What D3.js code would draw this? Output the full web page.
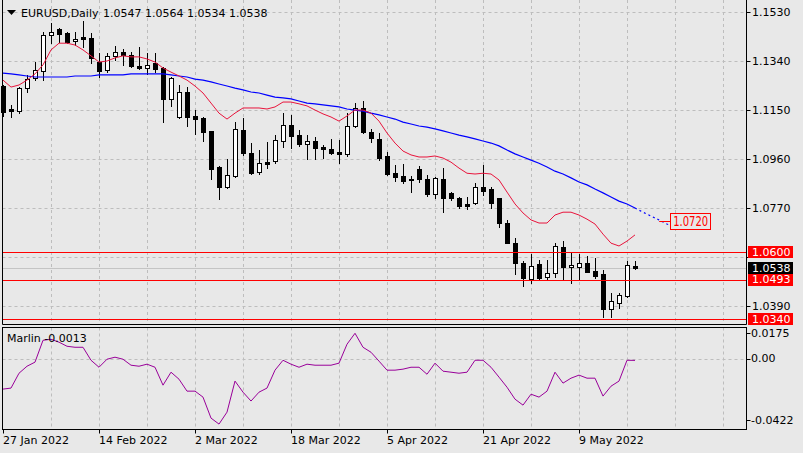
<!DOCTYPE html>
<html>
<head>
<meta charset="utf-8">
<script src="https://cdn.jsdelivr.net/npm/d3@7"></script>
<style>
  body { margin: 0; background: #e8e8e8; }
  svg text { font-family: "DejaVu Sans", sans-serif; font-size: 11px; fill: #000; }
</style>
</head>
<body>
<svg id="chart" width="803" height="453"></svg>
<script>
// Daily candles, one per trading day starting 27 Jan 2022
const opens  = [1.1243,1.1154,1.1146,1.1235,1.1274,1.1301,1.1441,1.1464,1.1448,1.1417,
                1.1433,1.1429,1.1336,1.1305,1.1360,1.1375,1.1364,1.1321,1.1313,1.1332,
                1.1313,1.1193,1.1123,1.1220,1.1127,1.1119,1.1069,1.0929,1.0852,1.0894,
                1.1073,1.0983,1.0909,1.0948,1.0952,1.1030,1.1092,1.1053,1.1018,1.1030,
                1.1007,1.0999,1.0987,1.0980,1.1088,1.1158,1.1065,1.1038,1.0972,1.0905,
                1.0894,1.0881,1.0921,1.0883,1.0825,1.0883,1.0829,1.0809,1.0786,1.0790,
                1.0852,1.0844,1.0809,1.0712,1.0634,1.0557,1.0495,1.0553,1.0503,1.0518,
                1.0619,1.0541,1.0541,1.0557,1.0526,1.0514,1.0378,1.0401,1.0429,1.0547];
const highs  = [1.1247,1.1169,1.1239,1.1286,1.1336,1.1452,1.1487,1.1468,1.1452,1.1452,
                1.1495,1.1448,1.1371,1.1371,1.1398,1.1387,1.1375,1.1394,1.1371,1.1371,
                1.1317,1.1278,1.1247,1.1239,1.1150,1.1123,1.1069,1.0933,1.0960,1.1103,
                1.1119,1.1022,1.0995,1.1026,1.1053,1.1138,1.1131,1.1073,1.1053,1.1046,
                1.1015,1.1038,1.1034,1.1138,1.1178,1.1185,1.1077,1.1061,1.0987,1.0937,
                1.0940,1.0894,1.0933,1.0898,1.0890,1.0925,1.0832,1.0813,1.0813,1.0867,
                1.0937,1.0852,1.0809,1.0724,1.0654,1.0565,1.0592,1.0569,1.0569,1.0634,
                1.0642,1.0596,1.0592,1.0584,1.0577,1.0530,1.0440,1.0440,1.0565,1.0564];
const lows   = [1.1127,1.1123,1.1138,1.1220,1.1266,1.1266,1.1409,1.1413,1.1409,1.1402,
                1.1394,1.1332,1.1278,1.1297,1.1344,1.1325,1.1317,1.1309,1.1290,1.1297,
                1.1103,1.1166,1.1119,1.1088,1.1057,1.1030,1.0883,1.0805,1.0848,1.0890,
                1.0976,1.0902,1.0902,1.0925,1.0944,1.1007,1.1003,1.1011,1.0960,1.0960,
                1.0964,1.0980,1.0944,1.0972,1.1084,1.1061,1.1026,1.0956,1.0898,1.0875,
                1.0867,1.0832,1.0871,1.0817,1.0809,1.0754,1.0801,1.0770,1.0766,1.0786,
                1.0821,1.0770,1.0697,1.0634,1.0514,1.0468,1.0479,1.0495,1.0491,1.0503,
                1.0495,1.0479,1.0495,1.0522,1.0499,1.0347,1.0347,1.0382,1.0425,1.0534];
const closes = [1.1142,1.1146,1.1235,1.1270,1.1305,1.1441,1.1452,1.1444,1.1413,1.1425,
                1.1425,1.1352,1.1301,1.1360,1.1375,1.1364,1.1321,1.1313,1.1325,1.1309,
                1.1193,1.1274,1.1220,1.1123,1.1115,1.1065,1.0921,1.0852,1.0898,1.1077,
                1.0983,1.0905,1.0944,1.0940,1.1034,1.1092,1.1050,1.1018,1.1030,1.1003,
                1.0999,1.0983,1.0980,1.1088,1.1158,1.1065,1.1042,1.0964,1.0902,1.0890,
                1.0875,1.0879,1.0883,1.0825,1.0887,1.0809,1.0809,1.0778,1.0778,1.0852,
                1.0836,1.0790,1.0712,1.0634,1.0557,1.0499,1.0546,1.0499,1.0518,1.0623,
                1.0541,1.0549,1.0557,1.0522,1.0507,1.0378,1.0409,1.0433,1.0549,1.0538];

// red (fast) and blue (slow) moving averages, read per bar
const maFast = [1.1266,1.1239,1.1247,1.1266,1.1290,1.1325,1.1383,1.1409,1.1409,1.1402,
                1.1383,1.1360,1.1336,1.1340,1.1352,1.1360,1.1356,1.1356,1.1348,1.1336,
                1.1313,1.1297,1.1282,1.1266,1.1243,1.1216,1.1177,1.1138,1.1115,1.1138,
                1.1158,1.1158,1.1158,1.1154,1.1162,1.1181,1.1181,1.1174,1.1166,1.1150,
                1.1135,1.1123,1.1107,1.1127,1.1150,1.1150,1.1138,1.1107,1.1061,1.1022,
                1.0991,1.0976,1.0968,1.0968,1.0972,1.0964,1.0948,1.0925,1.0905,1.0902,
                1.0905,1.0902,1.0879,1.0832,1.0786,1.0751,1.0724,1.0712,1.0712,1.0743,
                1.0754,1.0754,1.0743,1.0727,1.0708,1.0669,1.0634,1.0623,1.0642,1.0666];
const maSlow = [1.1293,1.1290,1.1286,1.1282,1.1278,1.1278,1.1278,1.1278,1.1278,1.1282,
                1.1282,1.1282,1.1286,1.1286,1.1286,1.1286,1.1290,1.1290,1.1290,1.1290,
                1.1290,1.1286,1.1282,1.1278,1.1270,1.1266,1.1259,1.1251,1.1243,1.1235,
                1.1228,1.1220,1.1216,1.1208,1.1200,1.1197,1.1193,1.1185,1.1177,1.1174,
                1.1170,1.1166,1.1162,1.1154,1.1150,1.1146,1.1138,1.1131,1.1123,1.1115,
                1.1103,1.1096,1.1088,1.1084,1.1077,1.1069,1.1061,1.1053,1.1046,1.1038,
                1.1030,1.1022,1.1011,1.0995,1.0980,1.0968,1.0956,1.0944,1.0929,1.0913,
                1.0902,1.0887,1.0871,1.0860,1.0844,1.0829,1.0813,1.0797,1.0786,1.0770];
// slow MA drawn dotted past the last bar
const maSlowAhead = [1.0770,1.0754,1.0739,1.0724,1.0708,1.0697];

const marlin = [-0.0210,-0.0203,-0.0101,-0.0053,-0.0025,0.0125,0.0132,0.0112,0.0084,0.0077,
                0.0077,-0.0012,-0.0060,-0.0005,0.0009,-0.0005,-0.0046,-0.0053,-0.0039,-0.0060,
                -0.0183,-0.0094,-0.0142,-0.0224,-0.0224,-0.0265,-0.0409,-0.0450,-0.0368,-0.0155,
                -0.0231,-0.0292,-0.0231,-0.0203,-0.0080,-0.0012,-0.0039,-0.0060,-0.0039,-0.0046,
                -0.0046,-0.0046,-0.0032,0.0098,0.0173,0.0077,0.0043,-0.0018,-0.0080,-0.0080,
                -0.0073,-0.0060,-0.0060,-0.0108,-0.0032,-0.0087,-0.0094,-0.0101,-0.0094,-0.0012,
                -0.0012,-0.0060,-0.0128,-0.0197,-0.0279,-0.0320,-0.0245,-0.0265,-0.0224,-0.0094,
                -0.0169,-0.0135,-0.0114,-0.0135,-0.0135,-0.0258,-0.0190,-0.0155,-0.0012,-0.0013];

const priceTicks = [1.1530, 1.1340, 1.1150, 1.0960, 1.0770, 1.0580, 1.0390];
const hiddenPriceLabels = [1.0580];
const levels = [1.0600, 1.0493, 1.0340];
const lastPrice = 1.0538;
const aheadLabel = 1.0720;
const marlinTicks = [0.0175, 0, -0.0422];
const marlinTickLabels = ["0.0175", "0.00", "-0.0422"];
const dateLabels = ["27 Jan 2022", "14 Feb 2022", "2 Mar 2022", "18 Mar 2022", "5 Apr 2022", "21 Apr 2022", "9 May 2022"];
const dateLabelBars = [0, 12, 24, 36, 48, 60, 72];

const svg = d3.select('#chart');
const W = 803, H = 453;
const left = 2.5, right = 746.5;
const mainTop = 0, mainBottom = 324.5;
const subTop = 327.5, subBottom = 429.5;
const gridColor = '#bdbdbd';

svg.append('rect').attr('width', W).attr('height', H).attr('fill', '#e8e8e8');

const x = d3.scaleLinear().domain([0, 93]).range([3, 747]);
const y = d3.scaleLinear().domain([1.0340, 1.1530]).range([319, 12]);
const ym = d3.scaleLinear().domain([-0.0422, 0.0175]).range([420, 333]);
const px = v => Math.round(v) + 0.5;

// vertical grid, every 6 bars
const gridBars = d3.range(6, 93, 6);
[[mainTop, mainBottom], [subTop, subBottom]].forEach(([t, b]) => {
    svg.append('g').selectAll('line')
        .data(gridBars)
        .enter()
        .append('line')
        .attr('x1', d => px(x(d))).attr('x2', d => px(x(d)))
        .attr('y1', t).attr('y2', b)
        .attr('stroke', gridColor)
        .attr('stroke-dasharray', '3,3');
});

// horizontal price grid
svg.append('g').selectAll('line')
    .data(priceTicks)
    .enter()
    .append('line')
    .attr('x1', left).attr('x2', right)
    .attr('y1', d => px(y(d))).attr('y2', d => px(y(d)))
    .attr('stroke', gridColor)
    .attr('stroke-dasharray', '3,3');

svg.append('line')
    .attr('x1', left).attr('x2', right)
    .attr('y1', px(ym(0))).attr('y2', px(ym(0)))
    .attr('stroke', gridColor)
    .attr('stroke-dasharray', '3,3');

// bid line
svg.append('line')
    .attr('x1', left).attr('x2', right)
    .attr('y1', px(y(lastPrice))).attr('y2', px(y(lastPrice)))
    .attr('stroke', '#c4c4c4');

// candles
const bars = d3.range(closes.length);
const candles = svg.append('g').attr('shape-rendering', 'crispEdges');
candles.selectAll('.wick')
    .data(bars)
    .enter()
    .append('line')
    .attr('class', 'wick')
    .attr('x1', i => px(x(i))).attr('x2', i => px(x(i)))
    .attr('y1', i => Math.round(y(highs[i]))).attr('y2', i => Math.round(y(lows[i])) + 1)
    .attr('stroke', '#000');
candles.selectAll('.body')
    .data(bars)
    .enter()
    .append('rect')
    .attr('class', 'body')
    .attr('x', i => Math.round(x(i)) - 2 + 0.5)
    .attr('y', i => px(y(Math.max(opens[i], closes[i]))))
    .attr('width', 4)
    .attr('height', i => Math.max(0, Math.round(y(Math.min(opens[i], closes[i]))) - Math.round(y(Math.max(opens[i], closes[i])))))
    .attr('fill', i => closes[i] >= opens[i] ? '#fff' : '#000')
    .attr('stroke', '#000');

// moving averages
const line = d3.line().x(d => x(d[0])).y(d => y(d[1]));
svg.append('path')
    .attr('d', line(maSlow.map((v, i) => [i, v])))
    .attr('fill', 'none').attr('stroke', '#0000ff').attr('stroke-width', 1.2);
svg.append('path')
    .attr('d', line(maSlowAhead.map((v, i) => [i + maSlow.length - 1, v])))
    .attr('fill', 'none').attr('stroke', '#0000ff').attr('stroke-width', 1.2)
    .attr('stroke-dasharray', '2,3');
svg.append('path')
    .attr('d', line(maFast.map((v, i) => [i, v])))
    .attr('fill', 'none').attr('stroke', '#e8143c').attr('stroke-width', 1);

// horizontal levels
svg.append('g').selectAll('line')
    .data(levels)
    .enter()
    .append('line')
    .attr('x1', left).attr('x2', right)
    .attr('y1', d => px(y(d))).attr('y2', d => px(y(d)))
    .attr('stroke', '#ff0000').attr('stroke-width', 1.2);

// 1.0720 projection label
const aheadX = x(maSlow.length - 1 + 4.4);
svg.append('line')
    .attr('x1', aheadX - 11).attr('x2', aheadX)
    .attr('y1', px(y(aheadLabel))).attr('y2', px(y(aheadLabel)))
    .attr('stroke', '#ff0000');
svg.append('rect')
    .attr('x', px(aheadX)).attr('y', px(y(aheadLabel) - 8))
    .attr('width', 40).attr('height', 16)
    .attr('fill', '#e8e8e8').attr('stroke', '#ff0000');
svg.append('text')
    .attr('x', aheadX + 3).attr('y', y(aheadLabel)).attr('dy', '0.37em')
    .attr('textLength', 35).attr('lengthAdjust', 'spacingAndGlyphs')
    .style('fill', '#ff0000').style('font-size', '14px')
    .text(aheadLabel.toFixed(4));

// marlin
svg.append('path')
    .attr('d', d3.line().x((d, i) => x(i)).y(d => ym(d))(marlin))
    .attr('fill', 'none').attr('stroke', '#990099').attr('stroke-width', 1);

// frames
const frame = svg.append('g').attr('stroke', '#000').attr('fill', 'none');
frame.append('path').attr('d', `M${left},${mainTop}V${mainBottom}H${right}V${mainTop}`);
frame.append('rect').attr('x', left).attr('y', subTop).attr('width', right - left).attr('height', subBottom - subTop);

// right price axis
const ax = svg.append('g');
ax.selectAll('line')
    .data(priceTicks)
    .enter()
    .append('line')
    .attr('x1', right).attr('x2', right + 4)
    .attr('y1', d => px(y(d))).attr('y2', d => px(y(d)))
    .attr('stroke', '#000');
ax.selectAll('text')
    .data(priceTicks.filter(d => !hiddenPriceLabels.includes(d)))
    .enter()
    .append('text')
    .attr('x', 752).attr('y', d => y(d)).attr('dy', '0.36em')
    .text(d => d.toFixed(4));

// level tags on the axis
const tags = levels.map(v => ({ v, bg: '#ff0000' })).concat([{ v: lastPrice, bg: '#000' }]);
const tag = svg.append('g').selectAll('g').data(tags).enter().append('g');
tag.append('rect')
    .attr('x', 748).attr('y', d => Math.round(y(d.v)) - 6)
    .attr('width', 45).attr('height', 12)
    .attr('fill', d => d.bg);
tag.append('text')
    .attr('x', 752).attr('y', d => y(d.v)).attr('dy', '0.36em')
    .style('fill', '#fff')
    .text(d => d.v.toFixed(4));

// marlin axis
svg.append('g').selectAll('text')
    .data(marlinTicks)
    .enter()
    .append('text')
    .attr('x', 751).attr('y', d => ym(d)).attr('dy', '0.36em')
    .text((d, i) => marlinTickLabels[i]);
svg.append('g').selectAll('line')
    .data(marlinTicks)
    .enter()
    .append('line')
    .attr('x1', right).attr('x2', right + 4)
    .attr('y1', d => px(ym(d))).attr('y2', d => px(ym(d)))
    .attr('stroke', '#000');

// date axis
svg.append('g').selectAll('line')
    .data(dateLabelBars)
    .enter()
    .append('line')
    .attr('x1', d => px(x(d))).attr('x2', d => px(x(d)))
    .attr('y1', subBottom).attr('y2', subBottom + 4)
    .attr('stroke', '#000');
svg.append('g').selectAll('text')
    .data(dateLabelBars)
    .enter()
    .append('text')
    .attr('x', d => x(d)).attr('y', 444)
    .text((d, i) => dateLabels[i]);

// titles
svg.append('path').attr('d', 'M7,10H16L11.5,15Z').attr('fill', '#000');
svg.append('text').attr('x', 21).attr('y', 17).text('EURUSD,Daily');
svg.append('text').attr('x', 103).attr('y', 17)
    .text([opens[79], highs[79], lows[79], closes[79]].map(v => v.toFixed(4)).join(' '));
svg.append('text').attr('x', 7).attr('y', 342).text('Marlin -0.0013');
</script>
</body>
</html>
